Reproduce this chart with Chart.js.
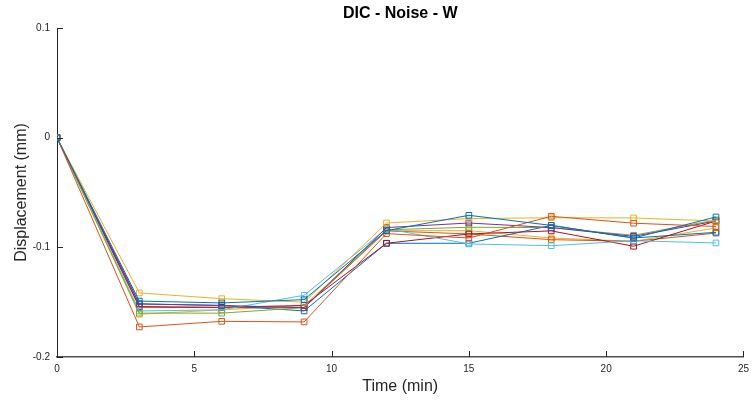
<!DOCTYPE html>
<html>
<head>
<meta charset="utf-8">
<script src="https://cdn.jsdelivr.net/npm/chart.js@4.4.1/dist/chart.umd.min.js"></script>
<style>
  html, body { margin: 0; padding: 0; background: #fff; }
  #wrap { width: 755px; height: 403px; }
</style>
</head>
<body>
<div id="wrap"><canvas id="dicChart"></canvas></div>
<script>
// time in minutes
const times = [0, 3, 6, 9, 12, 15, 18, 21, 24];

// displacement (mm) per run
const run1 = [0, -0.149, -0.1507, -0.1477, -0.0848, -0.0708, -0.0800, -0.0915, -0.0723];
const run2 = [0, -0.1726, -0.1675, -0.1680, -0.0875, -0.0915, -0.0717, -0.0780, -0.0810];
const run3 = [0, -0.1416, -0.1468, -0.1500, -0.0778, -0.0738, -0.0730, -0.0732, -0.0760];
const run4 = [0, -0.1516, -0.1530, -0.1550, -0.0820, -0.0778, -0.0820, -0.0900, -0.0760];
const run5 = [0, -0.1600, -0.1600, -0.1550, -0.0840, -0.0817, -0.0820, -0.0890, -0.0750];
const run6 = [0, -0.1580, -0.1570, -0.1437, -0.0830, -0.0969, -0.0985, -0.0940, -0.0960];
const run7 = [0, -0.1540, -0.1547, -0.1530, -0.0963, -0.0878, -0.0850, -0.0990, -0.0760];
const run8 = [0, -0.1516, -0.1530, -0.1580, -0.0963, -0.0963, -0.0800, -0.0915, -0.0863];
const run9 = [0, -0.1547, -0.1550, -0.1550, -0.0850, -0.0878, -0.0930, -0.0945, -0.0870];
const run10 = [0, -0.1610, -0.1570, -0.1530, -0.0848, -0.0848, -0.0915, -0.0945, -0.0823];

const runs = [run1, run2, run3, run4, run5, run6, run7, run8, run9, run10];
const colors = ['#0072BD', '#D95319', '#EDB120', '#7E2F8E', '#77AC30', '#4DBEEE', '#A2142F'];

const xTicks = [0, 5, 10, 15, 20, 25];
const yTicks = [-0.2, -0.1, 0, 0.1];
const chartTitle = 'DIC - Noise - W';

const axisColor = '#262626';
const labelFont = { family: 'Liberation Sans', size: 10 };

// MATLAB style inward tick marks, title centred over the axes
const matlabAxes = {
    id: 'matlabAxes',
    afterDraw(chart) {
        const { ctx, chartArea, scales: { x, y } } = chart;
        ctx.save();
        ctx.strokeStyle = axisColor;
        ctx.lineWidth = 1;
        ctx.beginPath();
        xTicks.forEach(t => {
            const px = Math.round(x.getPixelForValue(t)) + 0.5;
            ctx.moveTo(px, y.bottom);
            ctx.lineTo(px, y.bottom - 6);
        });
        yTicks.forEach(t => {
            const py = Math.round(y.getPixelForValue(t)) + 0.5;
            ctx.moveTo(x.left, py);
            ctx.lineTo(x.left + 6, py);
        });
        ctx.stroke();

        ctx.fillStyle = '#000';
        ctx.font = 'bold 16px "Liberation Sans"';
        ctx.textAlign = 'center';
        ctx.textBaseline = 'middle';
        ctx.fillText(chartTitle, (chartArea.left + chartArea.right) / 2, 14);
        ctx.restore();
    }
};

const ctx = document.getElementById('dicChart').getContext('2d');
new Chart(ctx, {
    type: 'line',
    data: {
        datasets: runs.map((vals, i) => ({
            label: 'Run ' + (i + 1),
            data: times.map((t, j) => ({ x: t, y: vals[j] })),
            borderColor: colors[i % colors.length],
            backgroundColor: 'rgba(0,0,0,0)',
            borderWidth: 1,
            pointStyle: 'rect',
            pointRadius: 4,
            pointBorderWidth: 1,
            pointBorderColor: colors[i % colors.length],
            pointBackgroundColor: 'rgba(0,0,0,0)',
            tension: 0
        }))
    },
    options: {
        responsive: true,
        maintainAspectRatio: false,
        animation: false,
        layout: { padding: { top: 28, right: 9, bottom: 0, left: 0 } },
        plugins: {
            legend: { display: false },
            tooltip: { enabled: false },
            title: { display: false }
        },
        scales: {
            x: {
                type: 'linear',
                min: 0,
                max: 25,
                afterFit: s => { s.height = 46; },
                afterBuildTicks: s => { s.ticks = xTicks.map(v => ({ value: v })); },
                grid: { display: false, drawTicks: false },
                border: { display: true, color: '#505050', width: 1.5 },
                ticks: {
                    color: axisColor,
                    font: labelFont,
                    padding: 6,
                    maxRotation: 0,
                    callback: v => String(v)
                },
                title: {
                    display: true,
                    text: 'Time (min)',
                    color: axisColor,
                    font: { family: 'Liberation Sans', size: 16 },
                    padding: { top: 0, bottom: 7 }
                }
            },
            y: {
                min: -0.2,
                max: 0.1,
                afterFit: s => { s.width = 57; },
                afterBuildTicks: s => { s.ticks = yTicks.map(v => ({ value: v })); },
                grid: { display: false, drawTicks: false },
                border: { display: true, color: axisColor, width: 1 },
                ticks: {
                    color: axisColor,
                    font: labelFont,
                    padding: 7,
                    callback: v => String(Math.round(v * 10) / 10)
                },
                title: {
                    display: true,
                    text: 'Displacement (mm)',
                    color: axisColor,
                    font: { family: 'Liberation Sans', size: 16 },
                    padding: { top: 12, bottom: 0 }
                }
            }
        }
    },
    plugins: [matlabAxes]
});
</script>
</body>
</html>
